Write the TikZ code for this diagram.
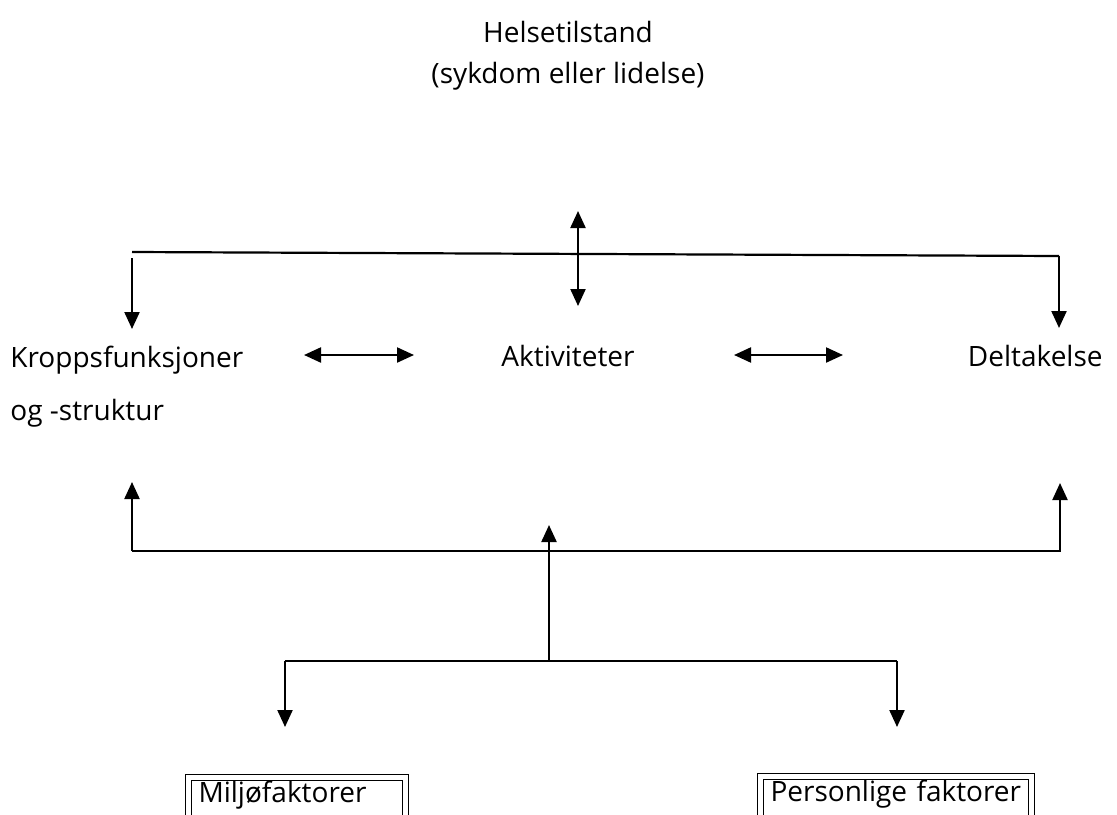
\documentclass[tikz,border=0pt]{standalone}
\usepackage{fontspec}
\setmainfont{Open Sans}
\usepackage{tikz}
\usetikzlibrary{arrows.meta,positioning}
\tikzstyle{txt} = [inner sep=0pt, font=\fontsize{14}{17}\selectfont]
\tikzstyle{factor} = [draw, double, double distance=2.5pt, line width=0.5pt, inner xsep=5pt, inner ysep=2pt, text depth=14pt, align=left, anchor=north west, font=\fontsize{14}{17}\selectfont]
\tikzstyle{conn} = [line width=1.1pt]
\tikzstyle{arrow} = [line width=1.1pt, -{Triangle[length=8.5pt,width=7.5pt]}]
\tikzstyle{dblarrow} = [line width=1.1pt, {Triangle[length=8.5pt,width=7.5pt]}-{Triangle[length=8.5pt,width=7.5pt]}]

\begin{document}
\begin{tikzpicture}[x=0.5pt, y=-0.5pt]
      \useasboundingbox (0,0) rectangle (1117,814);
      \clip (0,0) rectangle (1117,814);
      %tekstene
      \node[txt, anchor=base] (helse) at (568,42) {Helsetilstand};
      \node[txt, anchor=base] (sykdom) at (568,83) {(sykdom eller lidelse)};
      \node[txt, anchor=base west] (kropp) at (10,367) {Kroppsfunksjoner};
      \node[txt, anchor=base west] (struktur) at (10,420) {og -struktur};
      \node[txt, anchor=base] (akt) at (568,366) {Aktiviteter};
      \node[txt, anchor=base east] (delta) at (1103,366) {Deltakelse};
      \node[factor, text width=98.5pt] (milj) at (188,777) {Miljøfaktorer};
      \node[factor, text width=125.5pt] (pers) at (760,776) {Personlige faktorer};
      %punkter for linjene
      \coordinate (topL) at (132,252);
      \coordinate (topR) at (1059,256);
      \coordinate (topM1) at (578,211);
      \coordinate (topM2) at (578,306);
      \coordinate (kroppT) at (132,329);
      \coordinate (deltaT) at (1059,328);
      \coordinate (kroppA) at (304,355);
      \coordinate (aktA1) at (414,355);
      \coordinate (aktA2) at (734,355);
      \coordinate (deltaA) at (843,355);
      \coordinate (botL) at (132,551);
      \coordinate (botR) at (1061,551);
      \coordinate (kroppB) at (132,482);
      \coordinate (deltaB) at (1060,483);
      \coordinate (midB) at (549,525);
      \coordinate (midF) at (549,661);
      \coordinate (facL) at (285,661);
      \coordinate (facR) at (897,661);
      \coordinate (miljT) at (285,727);
      \coordinate (persT) at (897,727);
      %linjer og piler
      \draw [conn] (topL) -- (topR);
      \draw [arrow] ([yshift=-3pt]topL) -- (kroppT);
      \draw [arrow] (topR) -- (deltaT);
      \draw [dblarrow] (topM1) -- (topM2);
      \draw [dblarrow] (kroppA) -- (aktA1);
      \draw [dblarrow] (aktA2) -- (deltaA);
      \draw [conn] (botL) -- (botR);
      \draw [arrow] (botL) -- (kroppB);
      \draw [arrow] (botR -| deltaB) -- (deltaB);
      \draw [arrow] (midF) -- (midB);
      \draw [conn] (facL) -- (facR);
      \draw [arrow] (facL) -- (miljT);
      \draw [arrow] (facR) -- (persT);
    \end{tikzpicture}
\end{document}
